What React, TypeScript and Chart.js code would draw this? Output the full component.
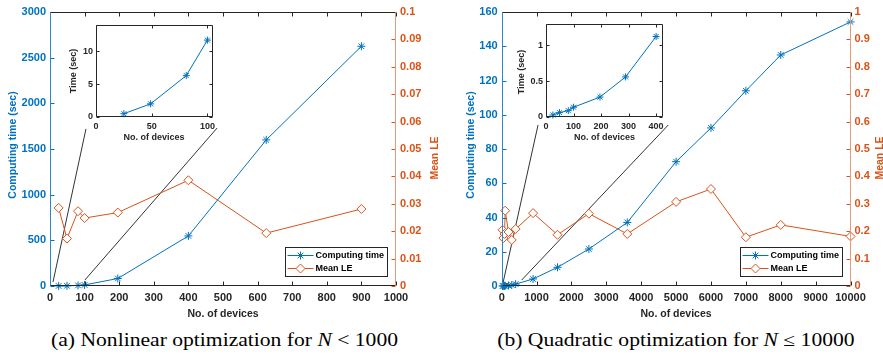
import React, { useEffect, useRef } from "react";
import { Chart, registerables } from "chart.js";
Chart.register(...registerables);

const BLUE = "#0072BD";
const ORANGE = "#D95319";
const INK = "#262626";
const SANS = "'Liberation Sans', Arial, Helvetica, sans-serif";
const SERIF = "'Liberation Serif', 'Times New Roman', Times, serif";

// ---------- Panel (a): nonlinear optimization, N < 1000 ----------
const devicesA = [25, 49, 81, 100, 196, 400, 625, 900];
const timeA = [0.5, 2.0, 6.3, 11.7, 82, 548, 1600, 2625];
const meanLeA = [0.0285, 0.0173, 0.0273, 0.0248, 0.0268, 0.0386, 0.0193, 0.0281];
const xTicksA = [0, 100, 200, 300, 400, 500, 600, 700, 800, 900, 1000];
const timeTicksA = [0, 500, 1000, 1500, 2000, 2500, 3000];
const leTicksA = [0, 0.01, 0.02, 0.03, 0.04, 0.05, 0.06, 0.07, 0.08, 0.09, 0.1];
const insetDevicesA = [25, 49, 81, 100];
const insetTimeA = [0.5, 2.0, 6.3, 11.7];
const insetXTicksA = [0, 50, 100];
const insetYTicksA = [0, 5, 10];
const zoomLineA1X = [8.7, 104];
const zoomLineA1Y = [44, 1720];
const zoomLineA2X = [101, 483];
const zoomLineA2Y = [66, 1730];

// ---------- Panel (b): quadratic optimization, N <= 10000 ----------
const devicesB = [25, 49, 81, 100, 196, 289, 400, 900, 1600, 2500, 3600, 5000, 6000, 7000, 8000, 10000];
const timeB = [0.02, 0.06, 0.09, 0.13, 0.28, 0.56, 1.12, 4.1, 10.9, 21.6, 37.1, 72.6, 92.3, 114, 134.9, 154.2];
const meanLeB = [0.205, 0.175, 0.19, 0.275, 0.197, 0.168, 0.208, 0.266, 0.187, 0.264, 0.19, 0.307, 0.354, 0.178, 0.223, 0.181];
const xTicksB = [0, 1000, 2000, 3000, 4000, 5000, 6000, 7000, 8000, 9000, 10000];
const timeTicksB = [0, 20, 40, 60, 80, 100, 120, 140, 160];
const leTicksB = [0, 0.1, 0.2, 0.3, 0.4, 0.5, 0.6, 0.7, 0.8, 0.9, 1];
const insetDevicesB = [25, 49, 81, 100, 196, 289, 400];
const insetTimeB = [0.024, 0.057, 0.085, 0.133, 0.275, 0.558, 1.125];
const insetXTicksB = [0, 100, 200, 300, 400];
const insetYTicksB = [0, 0.5, 1];
const zoomLineB1X = [37, 1042];
const zoomLineB1Y = [1.75, 94];
const zoomLineB2X = [574, 4775];
const zoomLineB2Y = [3.5, 94];

const legendLabels = ["Computing time", "Mean LE"];

type TextItem = { text: string; x: number; y: number; rot?: boolean; color: string; size: number };

function xy(xs: number[], ys: number[]) {
  return xs.map((x, i) => ({ x, y: ys[i] }));
}
function fmt(v: number) {
  return String(Number(Number(v).toFixed(3)));
}
function setTicks(arr: number[]) {
  return (s: any) => {
    s.ticks = arr.map((v) => ({ value: v }));
  };
}

function drawStar(ctx: CanvasRenderingContext2D, x: number, y: number, r: number, c: string) {
  ctx.strokeStyle = c;
  ctx.lineWidth = 1;
  ctx.beginPath();
  const d = r * Math.SQRT1_2;
  ctx.moveTo(x - r, y); ctx.lineTo(x + r, y);
  ctx.moveTo(x, y - r); ctx.lineTo(x, y + r);
  ctx.moveTo(x - d, y - d); ctx.lineTo(x + d, y + d);
  ctx.moveTo(x - d, y + d); ctx.lineTo(x + d, y - d);
  ctx.stroke();
}
function drawDiamond(ctx: CanvasRenderingContext2D, x: number, y: number, r: number, c: string) {
  ctx.strokeStyle = c;
  ctx.fillStyle = "#fff";
  ctx.lineWidth = 1;
  ctx.beginPath();
  ctx.moveTo(x, y - r); ctx.lineTo(x + r, y); ctx.lineTo(x, y + r); ctx.lineTo(x - r, y); ctx.closePath();
  ctx.fill();
  ctx.stroke();
}

function deco(o: {
  leftLine: string; rightLine: string; leftTick: string; rightTick: string;
  tick: number; right?: string; mirror: boolean; white: boolean; legend: boolean;
  texts: TextItem[]; offX: number; offY: number;
}) {
  return {
    id: "deco",
    beforeDraw(chart: any) {
      if (!o.white) return;
      const a = chart.chartArea;
      chart.ctx.save();
      chart.ctx.fillStyle = "#fff";
      chart.ctx.fillRect(a.left, a.top, a.right - a.left, a.bottom - a.top);
      chart.ctx.restore();
    },
    afterDraw(chart: any) {
      const ctx: CanvasRenderingContext2D = chart.ctx;
      const a = chart.chartArea;
      const L = Math.round(a.left) + 0.5, R = Math.round(a.right) - 0.5;
      const T = Math.round(a.top) + 0.5, B = Math.round(a.bottom) - 0.5;
      ctx.save();
      ctx.lineWidth = 1;
      const seg = (x1: number, y1: number, x2: number, y2: number, c: string) => {
        ctx.strokeStyle = c;
        ctx.beginPath(); ctx.moveTo(x1, y1); ctx.lineTo(x2, y2); ctx.stroke();
      };
      const xs = chart.scales.x;
      xs.ticks.forEach((t: any) => {
        const px = Math.round(xs.getPixelForValue(t.value)) + 0.5;
        seg(px, B, px, B - o.tick, INK);
        seg(px, T, px, T + o.tick, INK);
      });
      const ys = chart.scales.y;
      ys.ticks.forEach((t: any) => {
        const py = Math.round(ys.getPixelForValue(t.value)) + 0.5;
        seg(L, py, L + o.tick, py, o.leftTick);
        if (o.mirror) seg(R, py, R - o.tick, py, INK);
      });
      if (o.right) {
        const rs = chart.scales[o.right];
        rs.ticks.forEach((t: any) => {
          const py = Math.round(rs.getPixelForValue(t.value)) + 0.5;
          seg(R, py, R - o.tick, py, o.rightTick);
        });
      }
      seg(L, T, R, T, INK);
      seg(L, B, R, B, INK);
      seg(L, T, L, B, o.leftLine);
      seg(R, T, R, B, o.rightLine);

      if (o.legend) {
        const w = 102, h = 29;
        const x0 = Math.round(a.right - 9 - w) + 0.5;
        const y0 = Math.round(a.bottom - 10 - h) + 0.5;
        ctx.fillStyle = "#fff";
        ctx.fillRect(x0, y0, w, h);
        ctx.strokeStyle = INK;
        ctx.strokeRect(x0, y0, w, h);
        const rows = [
          { label: legendLabels[0], color: BLUE, y: y0 + 8 },
          { label: legendLabels[1], color: ORANGE, y: y0 + 21 },
        ];
        ctx.font = `bold 9px ${SANS}`;
        ctx.textAlign = "left";
        ctx.textBaseline = "middle";
        rows.forEach((r, i) => {
          seg(x0 + 2, r.y, x0 + 28, r.y, r.color);
          if (i === 0) drawStar(ctx, x0 + 15, r.y, 4, r.color);
          else drawDiamond(ctx, x0 + 15, r.y, 4.5, r.color);
          ctx.fillStyle = "#000";
          ctx.fillText(r.label, x0 + 30, r.y + 0.5);
        });
      }

      o.texts.forEach((t) => {
        ctx.save();
        ctx.font = `bold ${t.size}px ${SANS}`;
        ctx.fillStyle = t.color;
        ctx.textAlign = "center";
        ctx.textBaseline = "middle";
        ctx.translate(t.x - o.offX, t.y - o.offY);
        if (t.rot) ctx.rotate(-Math.PI / 2);
        ctx.fillText(t.text, 0, 0);
        ctx.restore();
      });
      ctx.restore();
    },
  };
}

function tickOpts(color: string, size: number, padding: number) {
  return {
    autoSkip: false,
    maxRotation: 0,
    minRotation: 0,
    padding,
    color,
    font: { family: SANS, size, weight: "bold" as const },
    callback: (v: any) => fmt(v),
  };
}

function mainConfig(s: {
  devices: number[]; time: number[]; le: number[];
  xMax: number; yMax: number; leMax: number;
  xTicks: number[]; yTicks: number[]; leTicks: number[];
  lines: [number[], number[]][];
  leftW: number; rightW: number; xH: number;
  texts: TextItem[]; offX: number; offY: number;
}): any {
  return {
    type: "line",
    data: {
      datasets: [
        {
          label: legendLabels[0], data: xy(s.devices, s.time), yAxisID: "y",
          borderColor: BLUE, backgroundColor: BLUE, borderWidth: 1,
          pointStyle: "star", pointRadius: 4, pointBorderColor: BLUE, pointBorderWidth: 1,
          clip: false, order: 1,
        },
        {
          label: legendLabels[1], data: xy(s.devices, s.le), yAxisID: "y1",
          borderColor: ORANGE, backgroundColor: "#fff", borderWidth: 1,
          pointStyle: "rectRot", pointRadius: 4.5, pointBorderColor: ORANGE, pointBackgroundColor: "#fff",
          pointBorderWidth: 1, clip: false, order: 2,
        },
        ...s.lines.map(([lx, ly]) => ({
          label: "zoom", data: xy(lx, ly), yAxisID: "y",
          borderColor: "#333333", borderWidth: 1, pointRadius: 0, order: 3,
        })),
      ],
    },
    options: {
      responsive: false,
      animation: false,
      events: [],
      layout: { padding: { top: 12, left: 0, right: 0, bottom: 0 } },
      plugins: { legend: { display: false }, tooltip: { enabled: false } },
      scales: {
        x: {
          type: "linear", position: "bottom", min: 0, max: s.xMax,
          afterBuildTicks: setTicks(s.xTicks),
          afterFit: (sc: any) => { sc.height = s.xH; },
          grid: { display: false, drawTicks: false }, border: { display: false },
          ticks: tickOpts(INK, 11, 5),
        },
        y: {
          type: "linear", position: "left", min: 0, max: s.yMax,
          afterBuildTicks: setTicks(s.yTicks),
          afterFit: (sc: any) => { sc.width = s.leftW; },
          grid: { display: false, drawTicks: false }, border: { display: false },
          ticks: tickOpts(BLUE, 11, 4),
        },
        y1: {
          type: "linear", position: "right", min: 0, max: s.leMax,
          afterBuildTicks: setTicks(s.leTicks),
          afterFit: (sc: any) => { sc.width = s.rightW; },
          grid: { display: false, drawTicks: false }, border: { display: false },
          ticks: tickOpts(ORANGE, 11, 4),
        },
      },
    },
    plugins: [
      deco({
        leftLine: "#2a88cc", rightLine: "#e59a78", leftTick: BLUE, rightTick: ORANGE,
        tick: 4, right: "y1", mirror: false, white: false, legend: true,
        texts: s.texts, offX: s.offX, offY: s.offY,
      }),
    ],
  };
}

function insetConfig(s: {
  devices: number[]; time: number[]; xMax: number; yMax: number;
  xTicks: number[]; yTicks: number[]; leftW: number; padR: number; padT: number; xH: number;
  texts: TextItem[]; offX: number; offY: number;
}): any {
  return {
    type: "line",
    data: {
      datasets: [
        {
          label: "inset", data: xy(s.devices, s.time),
          borderColor: BLUE, borderWidth: 1, pointStyle: "star", pointRadius: 3.5,
          pointBorderColor: BLUE, pointBorderWidth: 1, clip: false,
        },
      ],
    },
    options: {
      responsive: false,
      animation: false,
      events: [],
      layout: { padding: { top: s.padT, left: 0, right: s.padR, bottom: 0 } },
      plugins: { legend: { display: false }, tooltip: { enabled: false } },
      scales: {
        x: {
          type: "linear", min: 0, max: s.xMax,
          afterBuildTicks: setTicks(s.xTicks),
          afterFit: (sc: any) => { sc.height = s.xH; },
          grid: { display: false, drawTicks: false }, border: { display: false },
          ticks: tickOpts(INK, 9, 4),
        },
        y: {
          type: "linear", min: 0, max: s.yMax,
          afterBuildTicks: setTicks(s.yTicks),
          afterFit: (sc: any) => { sc.width = s.leftW; },
          grid: { display: false, drawTicks: false }, border: { display: false },
          ticks: tickOpts(INK, 9, 3),
        },
      },
    },
    plugins: [
      deco({
        leftLine: INK, rightLine: INK, leftTick: INK, rightTick: INK,
        tick: 3, mirror: true, white: true, legend: false,
        texts: s.texts, offX: s.offX, offY: s.offY,
      }),
    ],
  };
}

function ChartBox(p: { left: number; top: number; width: number; height: number; make: () => any }) {
  const ref = useRef<HTMLCanvasElement>(null);
  useEffect(() => {
    const c = new Chart(ref.current as HTMLCanvasElement, p.make());
    return () => c.destroy();
  }, []);
  return (
    <canvas
      ref={ref}
      width={p.width}
      height={p.height}
      style={{ position: "absolute", left: p.left, top: p.top, width: p.width, height: p.height }}
    />
  );
}

function Caption(p: { center: number; children: React.ReactNode }) {
  return (
    <div
      style={{
        position: "absolute", left: p.center - 250, width: 500, top: 328, height: 24,
        textAlign: "center", fontFamily: SERIF, fontSize: 18, lineHeight: "24px", color: "#000",
        whiteSpace: "nowrap",
      }}
    >
      <span style={{ display: "inline-block", transform: "scaleX(1.2)", transformOrigin: "center" }}>
        {p.children}
      </span>
    </div>
  );
}

export default function App() {
  return (
    <div style={{ position: "absolute", left: 0, top: 0, width: 883, height: 354, background: "#fff", overflow: "hidden" }}>
      <ChartBox
        left={0} top={0} width={441} height={322}
        make={() =>
          mainConfig({
            devices: devicesA, time: timeA, le: meanLeA, xMax: 1000, yMax: 3000, leMax: 0.1,
            xTicks: xTicksA, yTicks: timeTicksA, leTicks: leTicksA,
            lines: [[zoomLineA1X, zoomLineA1Y], [zoomLineA2X, zoomLineA2Y]],
            leftW: 50, rightW: 45, xH: 36, offX: 0, offY: 0,
            texts: [
              { text: "Computing time (sec)", x: 13, y: 145, rot: true, color: BLUE, size: 10.5 },
              { text: "Mean LE", x: 435, y: 158, rot: true, color: ORANGE, size: 10.5 },
              { text: "No. of devices", x: 223, y: 314, color: INK, size: 10.5 },
            ],
          })
        }
      />
      <ChartBox
        left={441} top={0} width={442} height={322}
        make={() =>
          mainConfig({
            devices: devicesB, time: timeB, le: meanLeB, xMax: 10000, yMax: 160, leMax: 1,
            xTicks: xTicksB, yTicks: timeTicksB, leTicks: leTicksB,
            lines: [[zoomLineB1X, zoomLineB1Y], [zoomLineB2X, zoomLineB2Y]],
            leftW: 60.7, rightW: 32.5, xH: 36, offX: 441, offY: 0,
            texts: [
              { text: "Computing time (sec)", x: 471, y: 145, rot: true, color: BLUE, size: 10.5 },
              { text: "Mean LE", x: 880, y: 158, rot: true, color: ORANGE, size: 10.5 },
              { text: "No. of devices", x: 676, y: 314, color: INK, size: 10.5 },
            ],
          })
        }
      />
      <ChartBox
        left={60} top={15} width={170} height={135}
        make={() =>
          insetConfig({
            devices: insetDevicesA, time: insetTimeA, xMax: 105, yMax: 14,
            xTicks: insetXTicksA, yTicks: insetYTicksA, leftW: 36, padR: 17, padT: 10, xH: 33,
            offX: 60, offY: 15,
            texts: [
              { text: "Time (sec)", x: 74, y: 71, rot: true, color: INK, size: 9 },
              { text: "No. of devices", x: 154, y: 138, color: INK, size: 9 },
            ],
          })
        }
      />
      <ChartBox
        left={505} top={14} width={175} height={136}
        make={() =>
          insetConfig({
            devices: insetDevicesB, time: insetTimeB, xMax: 425, yMax: 1.3,
            xTicks: insetXTicksB, yTicks: insetYTicksB, leftW: 41, padR: 17, padT: 10, xH: 33.3,
            offX: 505, offY: 14,
            texts: [
              { text: "Time (sec)", x: 521.5, y: 72, rot: true, color: INK, size: 9 },
              { text: "No. of devices", x: 604.5, y: 138, color: INK, size: 9 },
            ],
          })
        }
      />
      <Caption center={224.5}>
        (a) Nonlinear optimization for <i>N</i>&nbsp;&lt;&nbsp;1000
      </Caption>
      <Caption center={675.5}>
        (b) Quadratic optimization for <i>N</i>&nbsp;≤&nbsp;10000
      </Caption>
    </div>
  );
}
